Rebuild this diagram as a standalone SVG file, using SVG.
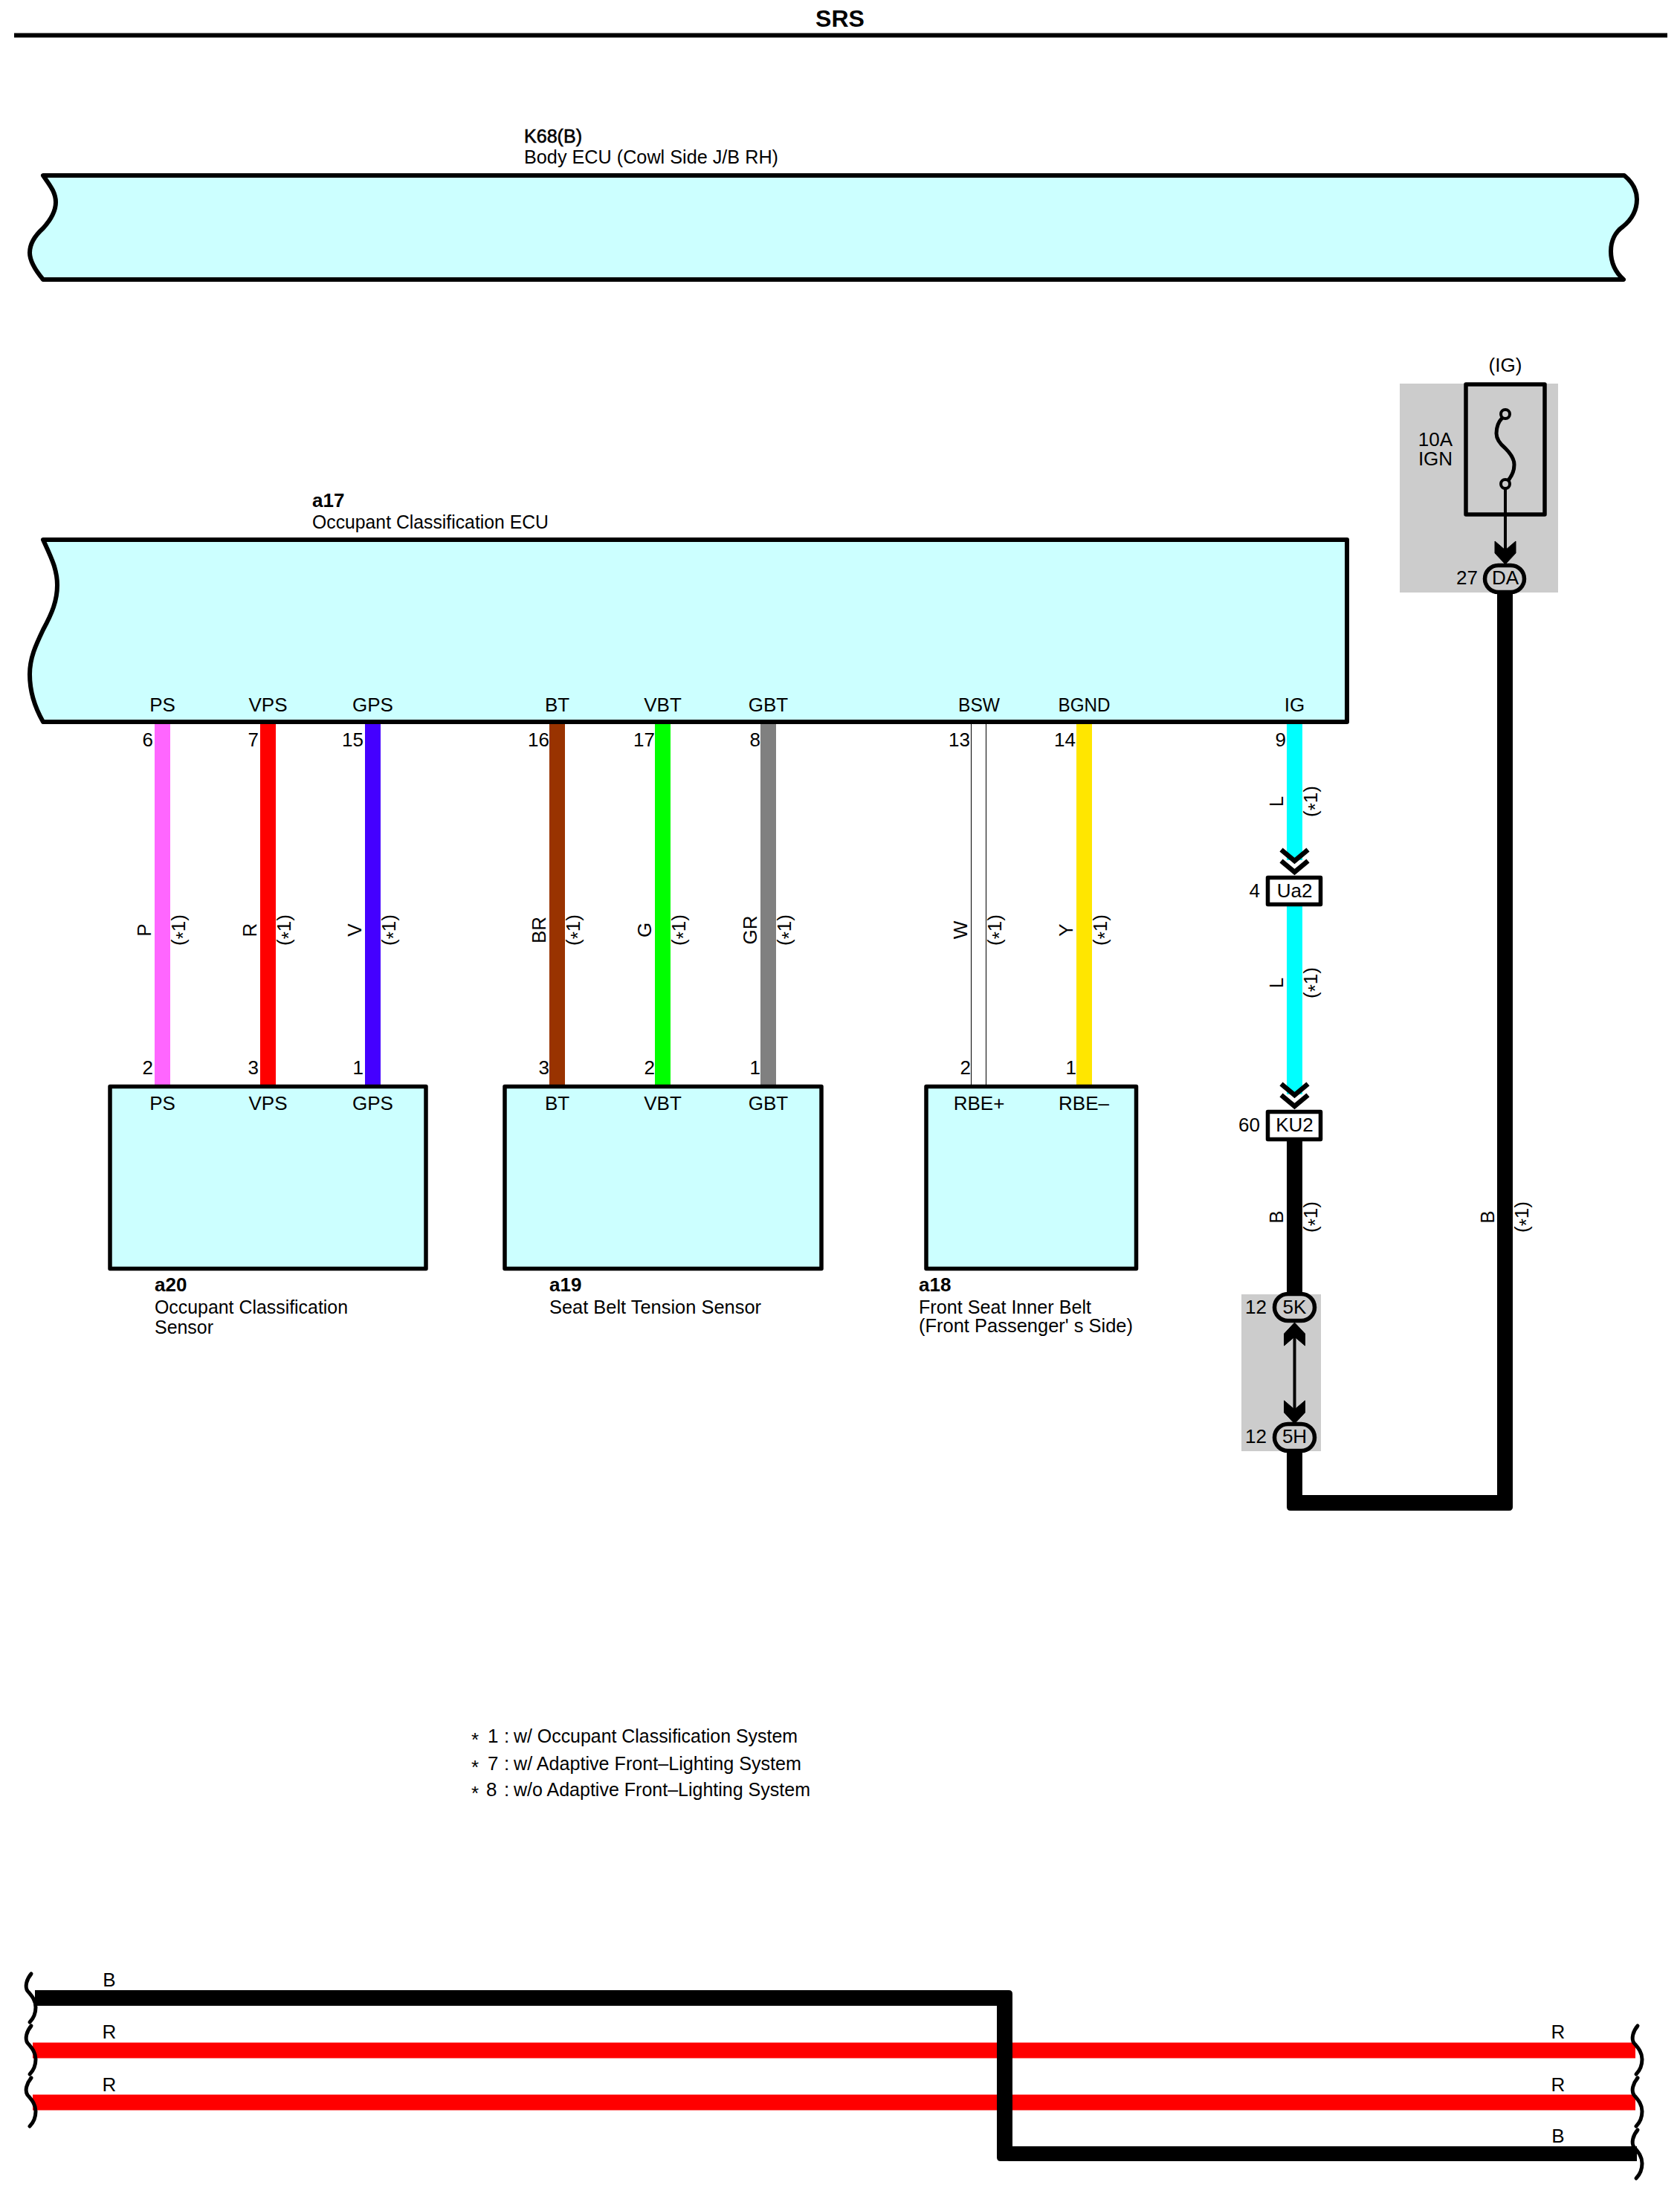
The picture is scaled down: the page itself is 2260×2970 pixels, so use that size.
<svg xmlns="http://www.w3.org/2000/svg" width="2260" height="2970" viewBox="0 0 2260 2970">
<style>
text{font-family:"Liberation Sans",Arial,sans-serif;font-size:26px;fill:#000}
.b{font-weight:700}
.sb{stroke:#000;stroke-width:.6px}
.m{text-anchor:middle}
.e{text-anchor:end}
.box{fill:#ccffff;stroke:#000;stroke-width:5.5;stroke-linejoin:round}
.ecu{stroke-width:6}
.conn{stroke:#000;stroke-width:5.5;stroke-linejoin:round}
.grey{fill:#ccc}
.wire{fill:none;stroke-width:21}
.wave{fill:none;stroke:#000;stroke-width:5;stroke-linecap:round}
.chev{fill:none;stroke:#000;stroke-width:6.5}
.thin{fill:none;stroke:#000;stroke-width:4}
</style>
<defs>
<path id="wv" class="wave" d="M42,2655C36,2662 33,2672 37,2678C42,2684 48,2690 48,2700C48,2708 45,2715 40,2720"/>
<polygon id="ah" points="-14,-31 0,-19 14,-31 14,-15 0,0 -14,-15" stroke="#000" stroke-width="1"/>
<path id="ch" class="chev" d="M-18,0L0,15L18,0M-18,15L0,30L18,15"/>
</defs>
<g id="title">
<text class="b m" x="1130" y="36" style="font-size:32px">SRS</text>
<rect x="19" y="44.5" width="2224" height="6"/>
</g>
<g id="k68">
<path class="box ecu" d="M58,236H2185C2196,245 2202,256 2202,268C2202,285 2193,297 2183,305C2173,312 2167,324 2167,338C2167,353 2173,366 2184,376H58C48,364 40,352 40,340C40,326 48,316 58,307C68,296 75,284 75,272C75,258 66,248 58,236Z"/>
<text class="sb" x="705" y="192" textLength="78" lengthAdjust="spacingAndGlyphs">K68(B)</text>
<text x="705" y="220" textLength="342" lengthAdjust="spacingAndGlyphs">Body ECU (Cowl Side J/B RH)</text>
</g>
<g id="connectors">
<path class="wire" stroke="#ff66ff" d="M218.5,974V1459"/>
<path class="wire" stroke="#ff0000" d="M360.5,974V1459"/>
<path class="wire" stroke="#4400ff" d="M501.5,974V1459"/>
<path class="wire" stroke="#993300" d="M749.5,974V1459"/>
<path class="wire" stroke="#00ff00" d="M891.5,974V1459"/>
<path class="wire" stroke="#808080" d="M1033.5,974V1459"/>
<path d="M1306.5,974V1459M1326.5,974V1459" fill="none" stroke="#000" stroke-width="1"/>
<path class="wire" stroke="#ffe600" d="M1458.5,974V1459"/>
<path class="wire" stroke="#00ffff" d="M1741.5,974V1157"/>
<path class="wire" stroke="#00ffff" d="M1741.5,1216V1472"/>
<path d="M1731,1535H1752V2011H2014V797H2035V2027Q2035,2032 2030,2032H1736Q1731,2032 1731,2027Z"/>
<path class="wire" stroke="#ff0000" d="M44,2758H2200"/>
<path class="wire" stroke="#ff0000" d="M44,2828H2200"/>
<path d="M47,2677H1357Q1362,2677 1362,2682V2887H2202V2907H1346Q1341,2907 1341,2902V2698H47Z"/>
<use href="#wv"/><use href="#wv" y="70"/><use href="#wv" y="140"/>
<use href="#wv" x="2161" y="70"/><use href="#wv" x="2161" y="140"/><use href="#wv" x="2161" y="210"/>
</g>
<g id="a17">
<path class="box ecu" d="M58,726H1812V971H58C46,950 40,930 40,907C40,885 48,868 58,847C70,825 77,808 77,787C77,765 68,748 58,726Z"/>
<text class="b" x="420" y="682">a17</text>
<text x="420" y="711" textLength="318" lengthAdjust="spacingAndGlyphs">Occupant Classification ECU</text>
<text class="m" x="218.5" y="956.5">PS</text>
<text class="m" x="360.5" y="956.5">VPS</text>
<text class="m" x="501.5" y="956.5">GPS</text>
<text class="m" x="749.5" y="956.5">BT</text>
<text class="m" x="891.5" y="956.5">VBT</text>
<text class="m" x="1033.5" y="956.5">GBT</text>
<text class="m" x="1317" y="956.5" textLength="56" lengthAdjust="spacingAndGlyphs">BSW</text>
<text class="m" x="1458.5" y="956.5" textLength="70" lengthAdjust="spacingAndGlyphs">BGND</text>
<text class="m" x="1741.5" y="956.5">IG</text>
</g>
<g id="pins">
<text class="e" x="206" y="1004">6</text><text class="e" x="348" y="1004">7</text><text class="e" x="489" y="1004">15</text>
<text class="e" x="739" y="1004">16</text><text class="e" x="881" y="1004">17</text><text class="e" x="1023" y="1004">8</text>
<text class="e" x="1305" y="1004">13</text><text class="e" x="1447" y="1004">14</text><text class="e" x="1730" y="1004">9</text>
<text class="e" x="206" y="1445">2</text><text class="e" x="348" y="1445">3</text><text class="e" x="489" y="1445">1</text>
<text class="e" x="739" y="1445">3</text><text class="e" x="881" y="1445">2</text><text class="e" x="1023" y="1445">1</text>
<text class="e" x="1306" y="1445">2</text><text class="e" x="1448" y="1445">1</text>
</g>
<g id="wire-labels">
<text class="m" transform="translate(203,1251) rotate(-90)">P</text>
<text class="m" transform="translate(345,1251) rotate(-90)">R</text>
<text class="m" transform="translate(486,1251) rotate(-90)">V</text>
<text class="m" transform="translate(734,1251) rotate(-90)">BR</text>
<text class="m" transform="translate(876,1251) rotate(-90)">G</text>
<text class="m" transform="translate(1018,1251) rotate(-90)">GR</text>
<text class="m" transform="translate(1301,1251) rotate(-90)">W</text>
<text class="m" transform="translate(1443,1251) rotate(-90)">Y</text>
<text class="m" transform="translate(1726,1078) rotate(-90)">L</text>
<text class="m" transform="translate(1726,1322) rotate(-90)">L</text>
<text class="m" transform="translate(1726,1637) rotate(-90)">B</text>
<text class="m" transform="translate(2010,1637) rotate(-90)">B</text>
<text class="m" transform="translate(249,1251) rotate(-90)">(<tspan dy="6">*</tspan><tspan dy="-6">1</tspan>)</text>
<text class="m" transform="translate(391,1251) rotate(-90)">(<tspan dy="6">*</tspan><tspan dy="-6">1</tspan>)</text>
<text class="m" transform="translate(532,1251) rotate(-90)">(<tspan dy="6">*</tspan><tspan dy="-6">1</tspan>)</text>
<text class="m" transform="translate(780,1251) rotate(-90)">(<tspan dy="6">*</tspan><tspan dy="-6">1</tspan>)</text>
<text class="m" transform="translate(922,1251) rotate(-90)">(<tspan dy="6">*</tspan><tspan dy="-6">1</tspan>)</text>
<text class="m" transform="translate(1064,1251) rotate(-90)">(<tspan dy="6">*</tspan><tspan dy="-6">1</tspan>)</text>
<text class="m" transform="translate(1347,1251) rotate(-90)">(<tspan dy="6">*</tspan><tspan dy="-6">1</tspan>)</text>
<text class="m" transform="translate(1489,1251) rotate(-90)">(<tspan dy="6">*</tspan><tspan dy="-6">1</tspan>)</text>
<text class="m" transform="translate(1772,1078) rotate(-90)">(<tspan dy="6">*</tspan><tspan dy="-6">1</tspan>)</text>
<text class="m" transform="translate(1772,1322) rotate(-90)">(<tspan dy="6">*</tspan><tspan dy="-6">1</tspan>)</text>
<text class="m" transform="translate(1772,1637) rotate(-90)">(<tspan dy="6">*</tspan><tspan dy="-6">1</tspan>)</text>
<text class="m" transform="translate(2056,1637) rotate(-90)">(<tspan dy="6">*</tspan><tspan dy="-6">1</tspan>)</text>
</g>
<g id="a20">
<rect class="box" x="148" y="1461.5" width="425" height="245"/>
<text class="m" x="218.5" y="1493">PS</text><text class="m" x="360.5" y="1493">VPS</text><text class="m" x="501.5" y="1493">GPS</text>
<text class="b" x="208" y="1737">a20</text>
<text x="208" y="1767" textLength="260" lengthAdjust="spacingAndGlyphs">Occupant Classification</text>
<text x="208" y="1794" textLength="79" lengthAdjust="spacingAndGlyphs">Sensor</text>
</g>
<g id="a19">
<rect class="box" x="679" y="1461.5" width="426" height="245"/>
<text class="m" x="749.5" y="1493">BT</text><text class="m" x="891.5" y="1493">VBT</text><text class="m" x="1033.5" y="1493">GBT</text>
<text class="b" x="739" y="1737">a19</text>
<text x="739" y="1767" textLength="285" lengthAdjust="spacingAndGlyphs">Seat Belt Tension Sensor</text>
</g>
<g id="a18">
<rect class="box" x="1246" y="1461.5" width="282.5" height="245"/>
<text class="m" x="1317" y="1493">RBE+</text><text class="m" x="1458" y="1493">RBE–</text>
<text class="b" x="1236" y="1737">a18</text>
<text x="1236" y="1767" textLength="232" lengthAdjust="spacingAndGlyphs">Front Seat Inner Belt</text>
<text x="1236" y="1792" textLength="288" lengthAdjust="spacingAndGlyphs">(Front Passenger' s Side)</text>
</g>
<g id="ua2">
<use href="#ch" x="1741.5" y="1143"/>
<rect class="conn" fill="#fff" x="1705.5" y="1180.5" width="71" height="36"/>
<text class="m" x="1741.5" y="1207">Ua2</text>
<text class="e" x="1695" y="1207">4</text>
</g>
<g id="ku2">
<use href="#ch" x="1741.5" y="1458"/>
<rect class="conn" fill="#fff" x="1705.5" y="1495.5" width="71" height="37"/>
<text class="m" x="1741.5" y="1522">KU2</text>
<text class="e" x="1695" y="1522">60</text>
</g>
<g id="fuse">
<rect class="grey" x="1883" y="516" width="213" height="281"/>
<text class="m" x="2025" y="500">(IG)</text>
<rect fill="none" class="conn" x="1972" y="517" width="106" height="175"/>
<text class="m" x="1931" y="600">10A</text>
<text class="m" x="1931" y="626">IGN</text>
<path fill="none" stroke="#000" stroke-width="5" d="M2021,562C2015,568 2013,576 2013,583C2013,592 2019,598 2025,603C2031,609 2037,616 2037,625C2037,634 2034,640 2029,646"/>
<circle cx="2025" cy="557" r="6" fill="#ccc" stroke="#000" stroke-width="4"/>
<circle cx="2025" cy="651" r="6" fill="#ccc" stroke="#000" stroke-width="4"/>
<path class="thin" d="M2025,657V745"/>
<use href="#ah" x="2025" y="759"/>
<rect class="conn" fill="#ccc" x="1997.5" y="760.5" width="53" height="36" rx="18"/>
<text class="m" x="2025" y="786">DA</text>
<text class="e" x="1988" y="786">27</text>
</g>
<g id="junction-5k5h">
<rect class="grey" x="1670" y="1741" width="107" height="211"/>
<path class="thin" d="M1741.5,1795V1900"/>
<use href="#ah" transform="translate(1741.5,1779) scale(1,-1)"/>
<use href="#ah" x="1741.5" y="1915"/>
<rect class="conn" fill="#ccc" x="1714.5" y="1740.5" width="54" height="36" rx="18"/>
<rect class="conn" fill="#ccc" x="1714.5" y="1915.5" width="54" height="36" rx="18"/>
<text class="m" x="1741.5" y="1767">5K</text>
<text class="m" x="1741.5" y="1941">5H</text>
<text class="e" x="1704" y="1767">12</text>
<text class="e" x="1704" y="1941">12</text>
</g>
<g id="notes">
<text y="2344"><tspan x="634" dy="5">*</tspan><tspan x="656" dy="-5">1</tspan><tspan x="678">:</tspan><tspan x="691" textLength="382" lengthAdjust="spacingAndGlyphs">w/ Occupant Classification System</tspan></text>
<text y="2381"><tspan x="634" dy="5">*</tspan><tspan x="656" dy="-5">7</tspan><tspan x="678">:</tspan><tspan x="691" textLength="387" lengthAdjust="spacingAndGlyphs">w/ Adaptive Front–Lighting System</tspan></text>
<text y="2416"><tspan x="634" dy="5">*</tspan><tspan x="654" dy="-5">8</tspan><tspan x="678">:</tspan><tspan x="691" textLength="399" lengthAdjust="spacingAndGlyphs">w/o Adaptive Front–Lighting System</tspan></text>
</g>
<g id="wire-end-labels">
<text class="m" x="147" y="2672">B</text><text class="m" x="147" y="2742">R</text><text class="m" x="147" y="2813">R</text>
<text class="m" x="2096" y="2742">R</text><text class="m" x="2096" y="2813">R</text><text class="m" x="2096" y="2882">B</text>
</g>
</svg>
